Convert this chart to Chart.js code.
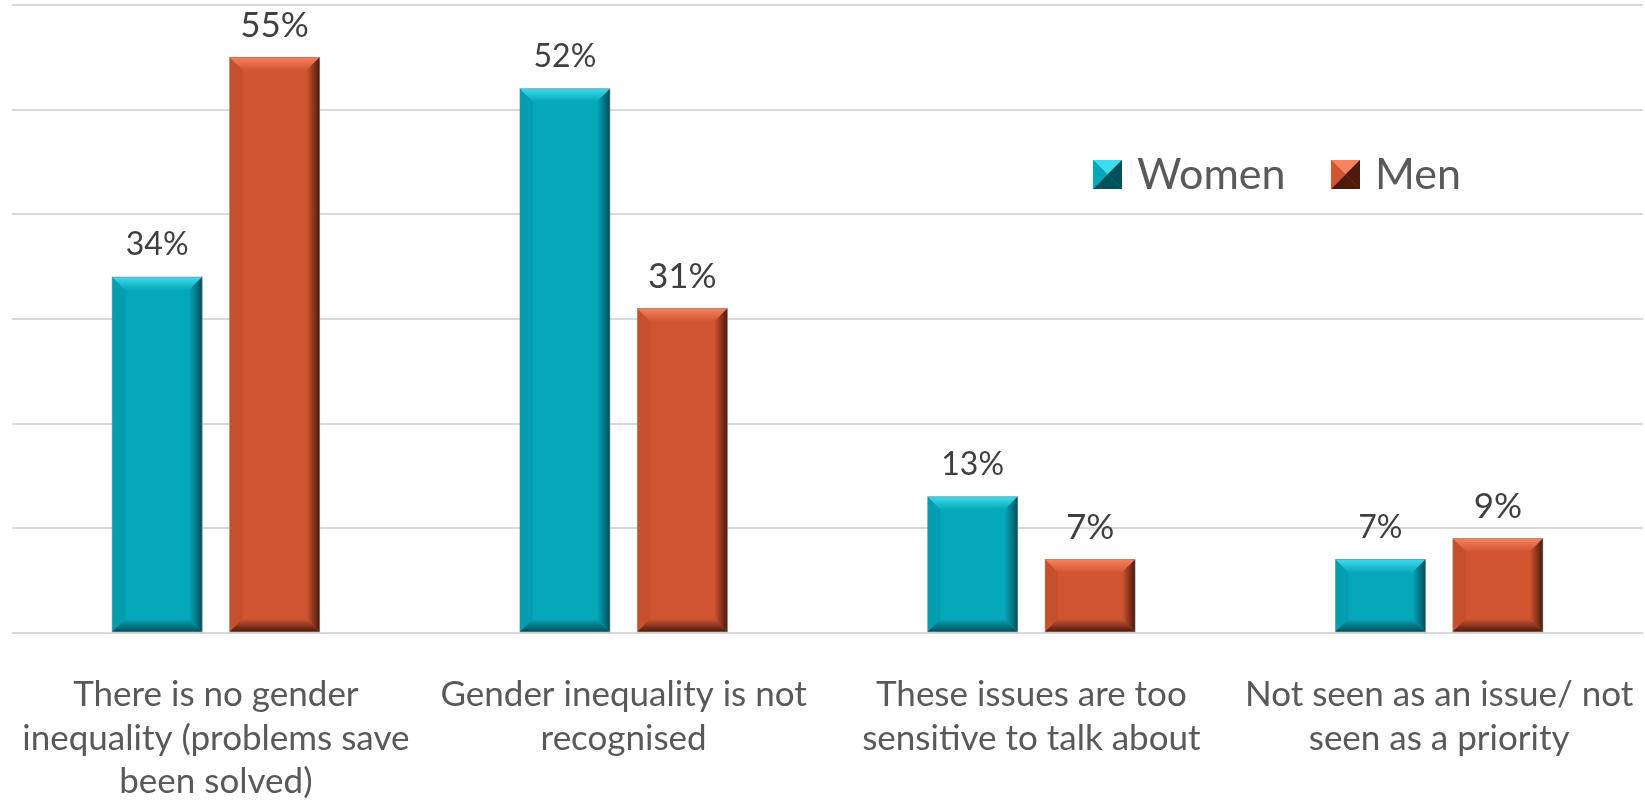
<!DOCTYPE html>
<html lang="en">

<head>
    <meta charset="UTF-8">
    <title>Gender inequality</title>
    <script src="https://cdn.jsdelivr.net/npm/chart.js"></script>
    <style>
        body { margin: 0; background: #fff; }
        .wrap { position: relative; width: 1645px; height: 800px; }
    </style>
</head>

<body>
    <div class="wrap">
        <canvas id="chart1"></canvas>
    </div>

    <script>
        // datos del gráfico
        const categories = [
            ['There is no gender', 'inequality (problems save', 'been solved)'],
            ['Gender inequality is not', 'recognised'],
            ['These issues are too', 'sensitive to talk about'],
            ['Not seen as an issue/ not', 'seen as a priority']
        ];
        const seriesNames = ['Women', 'Men'];
        const women = [34, 52, 13, 7];
        const men = [55, 31, 7, 9];
        const yTicks = [0, 10, 20, 30, 40, 50, 60];

        const colors = {
            Women: { base: '#05a7ba', light: '#3fdcee', dark: '#02505a' },
            Men: { base: '#d15531', light: '#f5845f', dark: '#4e1a0b' }
        };

        // bisel tipo Excel sobre cada barra
        const bevelPlugin = {
            id: 'bevel',
            afterDatasetsDraw(chart) {
                const ctx = chart.ctx;
                chart.data.datasets.forEach((ds, i) => {
                    const c = colors[ds.label];
                    chart.getDatasetMeta(i).data.forEach(bar => {
                        const l = bar.x - bar.width / 2, r = bar.x + bar.width / 2;
                        const t = bar.y, b = bar.base;
                        const s = Math.min(13, (b - t) / 2);
                        ctx.save();
                        // arriba
                        let g = ctx.createLinearGradient(0, t, 0, t + s);
                        g.addColorStop(0, c.light);
                        g.addColorStop(1, c.base);
                        ctx.fillStyle = g;
                        ctx.beginPath();
                        ctx.moveTo(l, t); ctx.lineTo(r, t); ctx.lineTo(r - s, t + s); ctx.lineTo(l + s, t + s);
                        ctx.closePath(); ctx.fill();
                        // derecha
                        g = ctx.createLinearGradient(r - s, 0, r, 0);
                        g.addColorStop(0, c.base);
                        g.addColorStop(1, c.dark);
                        ctx.fillStyle = g;
                        ctx.beginPath();
                        ctx.moveTo(r, t); ctx.lineTo(r, b); ctx.lineTo(r - s, b - s); ctx.lineTo(r - s, t + s);
                        ctx.closePath(); ctx.fill();
                        // abajo
                        g = ctx.createLinearGradient(0, b - s, 0, b);
                        g.addColorStop(0, c.base);
                        g.addColorStop(1, c.dark);
                        ctx.fillStyle = g;
                        ctx.beginPath();
                        ctx.moveTo(l, b); ctx.lineTo(r, b); ctx.lineTo(r - s, b - s); ctx.lineTo(l + s, b - s);
                        ctx.closePath(); ctx.fill();
                        // izquierda
                        ctx.fillStyle = 'rgba(0,0,0,0.05)';
                        ctx.beginPath();
                        ctx.moveTo(l, t); ctx.lineTo(l + s, t + s); ctx.lineTo(l + s, b - s); ctx.lineTo(l, b);
                        ctx.closePath(); ctx.fill();
                        ctx.strokeStyle = 'rgba(120,120,120,0.5)';
                        ctx.lineWidth = 1;
                        ctx.strokeRect(l, t, r - l, b - t);
                        ctx.restore();
                    });
                });
            }
        };

        // etiquetas de valor encima de las barras
        const labelsPlugin = {
            id: 'valueLabels',
            afterDatasetsDraw(chart) {
                const ctx = chart.ctx;
                ctx.save();
                ctx.fillStyle = '#404040';
                ctx.textAlign = 'center';
                ctx.textBaseline = 'middle';
                chart.data.datasets.forEach((ds, i) => {
                    ctx.font = (i === 0 ? 32 : 35) + 'px Lato';
                    chart.getDatasetMeta(i).data.forEach((bar, j) => {
                        ctx.fillText(ds.data[j] + '%', bar.x, bar.y - 32);
                    });
                });
                ctx.restore();
            }
        };

        // leyenda dentro del área del gráfico
        const legendPlugin = {
            id: 'innerLegend',
            afterDraw(chart) {
                const ctx = chart.ctx;
                const pos = [1093, 1331];
                const y = 160, sz = 29;
                ctx.save();
                ctx.font = '43px Lato';
                ctx.textBaseline = 'middle';
                chart.data.datasets.forEach((ds, i) => {
                    const c = colors[ds.label];
                    const x = pos[i];
                    const cx = x + sz / 2, cy = y + sz / 2;
                    const tri = (pts, col) => {
                        ctx.fillStyle = col;
                        ctx.beginPath();
                        ctx.moveTo(pts[0], pts[1]); ctx.lineTo(pts[2], pts[3]); ctx.lineTo(cx, cy);
                        ctx.closePath(); ctx.fill();
                    };
                    ctx.fillStyle = c.base;
                    ctx.fillRect(x, y, sz, sz);
                    tri([x, y, x + sz, y], c.light);
                    tri([x + sz, y, x + sz, y + sz], c.dark);
                    tri([x, y + sz, x + sz, y + sz], c.dark);
                    tri([x, y, x, y + sz], c.base);
                    ctx.fillStyle = '#595959';
                    ctx.fillText(ds.label, x + sz + 15, cy + 1);
                });
                ctx.restore();
            }
        };

        const ctx1 = document.getElementById('chart1').getContext('2d');
        new Chart(ctx1, {
            type: 'bar',
            data: {
                labels: categories,
                datasets: [{
                    label: seriesNames[0],
                    data: women,
                    backgroundColor: colors.Women.base,
                    categoryPercentage: 0.576,
                    barPercentage: 0.766
                }, {
                    label: seriesNames[1],
                    data: men,
                    backgroundColor: colors.Men.base,
                    categoryPercentage: 0.576,
                    barPercentage: 0.766
                }]
            },
            options: {
                responsive: true,
                maintainAspectRatio: false,
                animation: false,
                layout: { padding: { left: 12, right: 2, top: 5, bottom: -4 } },
                plugins: {
                    legend: { display: false },
                    tooltip: { enabled: false }
                },
                scales: {
                    x: {
                        // marcas invisibles para bajar las etiquetas sin ensanchar el margen
                        grid: { display: true, drawOnChartArea: false, drawTicks: true, tickLength: 40, color: 'rgba(0,0,0,0)' },
                        border: { display: false },
                        ticks: {
                            color: '#595959',
                            font: { family: 'Lato', size: 35, lineHeight: 1.25 },
                            padding: 0,
                            autoSkip: false,
                            maxRotation: 0
                        }
                    },
                    y: {
                        min: yTicks[0],
                        max: yTicks[yTicks.length - 1],
                        afterBuildTicks: axis => { axis.ticks = yTicks.map(v => ({ value: v })); },
                        grid: { color: '#d9d9d9', lineWidth: 2, drawTicks: false },
                        border: { display: false },
                        ticks: { display: false }
                    }
                }
            },
            plugins: [bevelPlugin, labelsPlugin, legendPlugin]
        });
    </script>
</body>

</html>
